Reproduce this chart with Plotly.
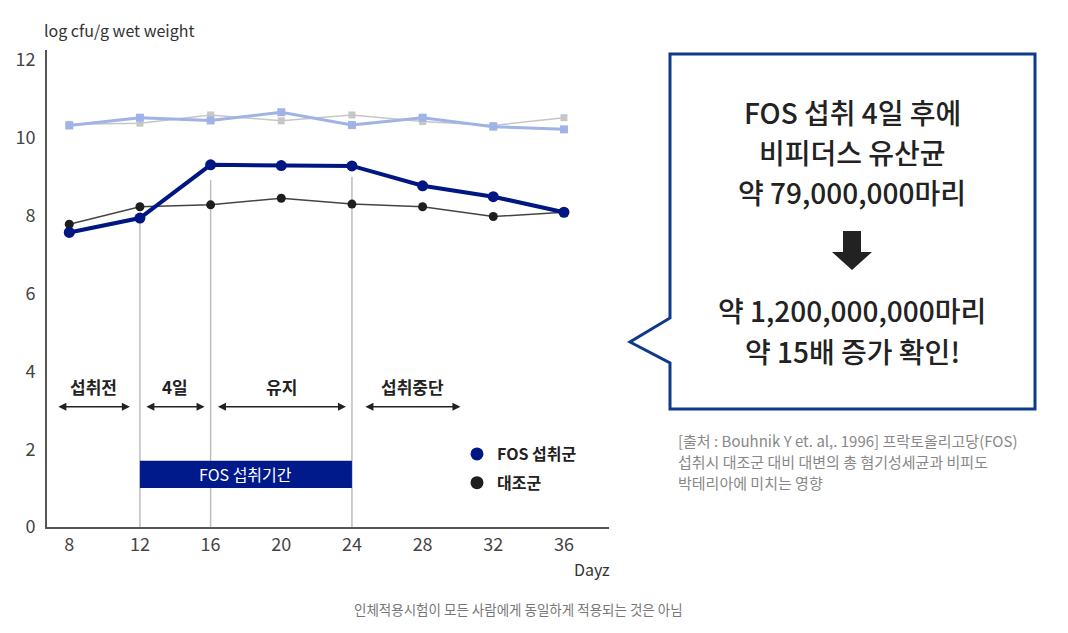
import plotly.graph_objects as go

# ---------------- data ----------------
days = [8, 12, 16, 20, 24, 28, 32, 36]
fos_bifido = [7.57, 7.94, 9.31, 9.29, 9.28, 8.77, 8.49, 8.09]
ctrl_bifido = [7.78, 8.23, 8.28, 8.45, 8.30, 8.23, 7.98, 8.09]
fos_total = [10.32, 10.52, 10.45, 10.66, 10.33, 10.52, 10.29, 10.22]
ctrl_total = [10.35, 10.38, 10.59, 10.44, 10.59, 10.42, 10.32, 10.52]

x_ticks = [8, 12, 16, 20, 24, 28, 32, 36]
y_ticks = [0, 2, 4, 6, 8, 10, 12]

phase_labels = ["섭취전", "4일", "유지", "섭취중단"]
phase_start = [7.30, 12.28, 16.33, 24.68]
phase_end = [11.43, 15.66, 23.66, 30.14]

guide_days = [12, 16, 24]
guide_tops = [7.94, 8.92, 9.0]

intake_start, intake_end = 12, 24
intake_label = "FOS 섭취기간"

legend_names = ["FOS 섭취군", "대조군"]

box_lines = ["FOS 섭취 4일 후에", "비피더스 유산균", "약 79,000,000마리",
             "약 1,200,000,000마리", "약 15배 증가 확인!"]
source_lines = ["[출처 : Bouhnik Y et. al,. 1996] 프락토올리고당(FOS)",
                "섭취시 대조군 대비 대변의 총 혐기성세균과 비피도",
                "박테리아에 미치는 영향"]
footnote = "인체적용시험이 모든 사람에게 동일하게 적용되는 것은 아님"

# ---------------- layout helpers ----------------
W, H = 1068, 633
L, R, T, B = 47, 609, 50, 527
FONT = "Noto Sans CJK KR"
NAVY = "#001683"


def px(x):
    return (x - L) / (R - L)


def py(y):
    return (B - y) / (B - T)


fig = go.Figure()

# guide lines
for d, top in zip(guide_days, guide_tops):
    fig.add_shape(type="line", x0=d, x1=d, y0=0, y1=top, xref="x", yref="y",
                  line=dict(color="#bdbdbd", width=1.5), layer="below")

# intake bar
fig.add_shape(type="rect", x0=intake_start, x1=intake_end, y0=1.0, y1=1.7,
              xref="x", yref="y", fillcolor="#001a8c", line=dict(width=0), layer="below")
fig.add_annotation(x=(intake_start + intake_end) / 2, y=1.35, xref="x", yref="y",
                   text=intake_label, showarrow=False,
                   font=dict(family=FONT, size=16, color="white"))

# series
fig.add_trace(go.Scatter(x=days, y=ctrl_total, mode="lines+markers", showlegend=False,
                         line=dict(color="#c6c6c6", width=1.5),
                         marker=dict(symbol="square", size=7, color="#c6c6c6")))
fig.add_trace(go.Scatter(x=days, y=fos_total, mode="lines+markers", showlegend=False,
                         line=dict(color="#9fb3e6", width=3),
                         marker=dict(symbol="square", size=8, color="#9fb3e6")))
fig.add_trace(go.Scatter(x=days, y=ctrl_bifido, mode="lines+markers", showlegend=False,
                         line=dict(color="#444444", width=1.5),
                         marker=dict(symbol="circle", size=9, color="#1e1e1e")))
fig.add_trace(go.Scatter(x=days, y=fos_bifido, mode="lines+markers", showlegend=False,
                         line=dict(color=NAVY, width=4),
                         marker=dict(symbol="circle", size=11, color=NAVY)))

# legend entries
for name, col in zip(legend_names, [NAVY, "#1e1e1e"]):
    fig.add_trace(go.Scatter(x=[None], y=[None], mode="markers", name=name,
                             legendgroup=name,
                             marker=dict(symbol="circle", size=13, color=col)))

# phase arrows
for lab, s, e in zip(phase_labels, phase_start, phase_end):
    fig.add_annotation(x=e, y=3.09, ax=s, ay=3.09, xref="x", yref="y", axref="x", ayref="y",
                       text="", showarrow=True, arrowhead=2, arrowside="end+start",
                       arrowsize=1, arrowwidth=1.6, arrowcolor="#222222")
    fig.add_annotation(x=(s + e) / 2, y=3.62, xref="x", yref="y", text=f"<b>{lab}</b>",
                       showarrow=False, font=dict(family=FONT, size=17, color="#222222"))

# axis titles
fig.add_annotation(x=px(42), y=py(30), xref="paper", yref="paper", xanchor="left",
                   yanchor="middle", text="log cfu/g wet weight", showarrow=False,
                   font=dict(family=FONT, size=16, color="#333333"))
fig.add_annotation(x=px(612), y=py(569), xref="paper", yref="paper", xanchor="right",
                   yanchor="middle", text="Dayz", showarrow=False,
                   font=dict(family=FONT, size=16, color="#333333"))
fig.add_annotation(x=px(518), y=py(609), xref="paper", yref="paper", xanchor="center",
                   yanchor="middle", text=footnote, showarrow=False,
                   font=dict(family=FONT, size=13.5, color="#777777"))

# speech bubble
pts = [(670, 54), (1035, 54), (1035, 409), (670, 409), (670, 363), (630, 342), (670, 318)]
path = "M " + " L ".join(f"{px(a):.5f},{py(b):.5f}" for a, b in pts) + " Z"
fig.add_shape(type="path", path=path, xref="paper", yref="paper",
              line=dict(color="#0f3a8c", width=3), fillcolor="white")

box_y = [112, 152, 192, 310, 351]
for t, yy in zip(box_lines, box_y):
    fig.add_annotation(x=px(852), y=py(yy), xref="paper", yref="paper", xanchor="center",
                       yanchor="middle", text=t, showarrow=False,
                       font=dict(family=FONT, size=28, color="#222222", weight=500))

# down arrow
arr = [(843, 231), (861, 231), (861, 252), (872, 252), (852, 270), (832, 252), (843, 252)]
apath = "M " + " L ".join(f"{px(a):.5f},{py(b):.5f}" for a, b in arr) + " Z"
fig.add_shape(type="path", path=apath, xref="paper", yref="paper",
              line=dict(color="#222222", width=0), fillcolor="#222222")

for t, yy in zip(source_lines, [440, 461, 482]):
    fig.add_annotation(x=px(676), y=py(yy), xref="paper", yref="paper", xanchor="left",
                       yanchor="middle", text=t, showarrow=False,
                       font=dict(family=FONT, size=15, color="#888888"))

fig.update_layout(
    width=W, height=H,
    margin=dict(l=L, r=W - R, t=T, b=H - B, pad=0),
    paper_bgcolor="white", plot_bgcolor="white",
    font=dict(family=FONT, color="#444444"),
    showlegend=True,
    legend=dict(x=px(457), y=py(437), xanchor="left", yanchor="top",
                font=dict(family=FONT, size=16, color="#222222", weight="bold"),
                tracegroupgap=5, traceorder="grouped", bgcolor="rgba(0,0,0,0)"),
    xaxis=dict(range=[6.74, 38.55], tickvals=x_ticks, ticktext=[str(v) for v in x_ticks],
               showline=True, linecolor="#555555", linewidth=2, showgrid=False,
               zeroline=False, ticks="", tickfont=dict(size=18, color="#444444")),
    yaxis=dict(range=[0, 12.26], tickvals=y_ticks, ticktext=[str(v) for v in y_ticks],
               showline=True, linecolor="#555555", linewidth=2, showgrid=False,
               zeroline=False, ticks="", ticklabelstandoff=6,
               tickfont=dict(size=18, color="#444444")),
)

fig.write_html("out.html", config={"displayModeBar": False},
               post_script="document.body.style.margin='0';document.body.style.overflow='hidden';")
